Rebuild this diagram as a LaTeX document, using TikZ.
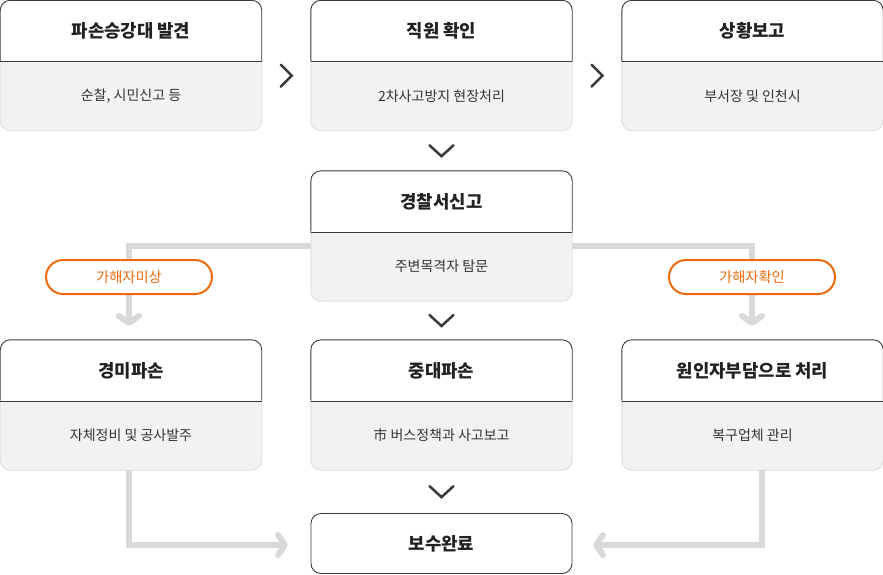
\documentclass[tikz,border=0pt]{standalone}
\usepackage{fontspec}
\setmainfont{Noto Sans CJK KR}
\usetikzlibrary{calc,backgrounds,arrows.meta}
\definecolor{dk}{HTML}{3A3A3A}
\definecolor{txt}{HTML}{222222}
\definecolor{bodytxt}{HTML}{333333}
\definecolor{bodyfill}{HTML}{F2F2F2}
\definecolor{bodyline}{HTML}{DEDEDE}
\definecolor{lineg}{HTML}{D9D9D9}
\definecolor{orng}{HTML}{EE6A0C}
\newcommand\mycard[5]{%
  \node[headn] (#1h) at (#2+130.5,#3+30.5) {#4};
  \node[bodyn] (#1b) at (#2+130.5,#3+95.5) {#5};
  \begin{scope}[on background layer]
    \path[fill=bodyfill,rounded corners=10pt] (#1h.north west) rectangle (#1b.south east);
    \begin{scope}
      \clip ($(#1h.north west)+(-5,-5)$) rectangle ($(#1h.south east)+(5,0)$);
      \path[fill=white,draw=dk,line width=0.9pt,rounded corners=10pt] (#1h.north west) rectangle (#1b.south east);
    \end{scope}
    \begin{scope}
      \clip ($(#1b.north west)+(-5,0)$) rectangle ($(#1b.south east)+(5,5)$);
      \path[draw=bodyline,line width=0.9pt,rounded corners=10pt] (#1h.north west) rectangle (#1b.south east);
    \end{scope}
    \draw[dk,line width=0.9pt] (#1h.south west) -- (#1h.south east);
  \end{scope}}
\begin{document}
\begin{tikzpicture}[x=1pt,y=-1pt,
  headn/.style={minimum width=261pt,minimum height=61pt,inner sep=0pt,text=txt,font=\fontsize{17.8}{21}\selectfont\bfseries},
  bodyn/.style={minimum width=261pt,minimum height=69pt,inner sep=0pt,text=bodytxt,font=\fontsize{14}{17}\selectfont},
  pill/.style={draw=orng,line width=2pt,fill=white,rounded corners=17pt,minimum width=166pt,minimum height=34pt,inner sep=0pt,text=orng,font=\fontsize{14.3}{17}\selectfont},
  conn/.style={draw=lineg,line width=6pt,-{Straight Barb[length=7pt,width=20pt,round]}},
  chev/.style={draw=dk,line width=2.5pt,line cap=round}]
\useasboundingbox (0,0) rectangle (883,574);
\mycard{find}{0.5}{0.5}{파손승강대 발견}{순찰, 시민신고 등}
\mycard{check}{311}{0.5}{직원 확인}{2차사고방지 현장처리}
\mycard{report}{622}{0.5}{상황보고}{부서장 및 인천시}
\mycard{police}{311}{171}{경찰서신고}{주변목격자 탐문}
\mycard{minor}{0.5}{340}{경미파손}{자체정비 및 공사발주}
\mycard{major}{311}{340}{중대파손}{市 버스정책과 사고보고}
\mycard{cause}{622}{340}{원인자부담으로 처리}{복구업체 관리}
\node[headn,draw=dk,line width=0.9pt,fill=white,rounded corners=10pt,minimum height=60pt] (done) at (441.5,543.5) {보수완료};
% chevrons
\coordinate (c1) at ($(findh.south east)!.5!(checkh.south west)+(0,14)$);
\coordinate (c2) at ($(checkh.south east)!.5!(reporth.south west)+(0,14)$);
\foreach \c in {c1,c2}
  \draw[chev] ($(\c)+(-5.5,-11)$) -- ($(\c)+(5.5,0)$) -- ($(\c)+(-5.5,11)$);
\coordinate (v1) at ($(checkb.south)!.5!(policeh.north)$);
\coordinate (v2) at ($(policeb.south)!.5!(majorh.north)$);
\coordinate (v3) at ($(majorb.south)!.5!(done.north)$);
\foreach \c in {v1,v2,v3}
  \draw[chev] ($(\c)+(-12,-5.5)$) -- ($(\c)+(0,5.5)$) -- ($(\c)+(12,-5.5)$);
% connectors
\coordinate (lbend) at (129,246);
\coordinate (lend) at (129,326);
\coordinate (rbend) at (752,246);
\coordinate (rend) at (752,326);
\draw[conn] (policeb.west |- lbend) -- (lbend) -- (lend);
\draw[conn] (policeb.east |- rbend) -- (rbend) -- (rend);
\coordinate (blbend) at (129,545);
\coordinate (blend) at (288,545);
\coordinate (brbend) at (762,545);
\coordinate (brend) at (593,545);
\draw[conn] (blbend |- minorb.south) -- (blbend) -- (blend);
\draw[conn] (brbend |- causeb.south) -- (brbend) -- (brend);
% labels
\node[pill] (p1) at (129,277) {가해자미상};
\node[pill] (p2) at (752,277) {가해자확인};
\end{tikzpicture}
\end{document}
